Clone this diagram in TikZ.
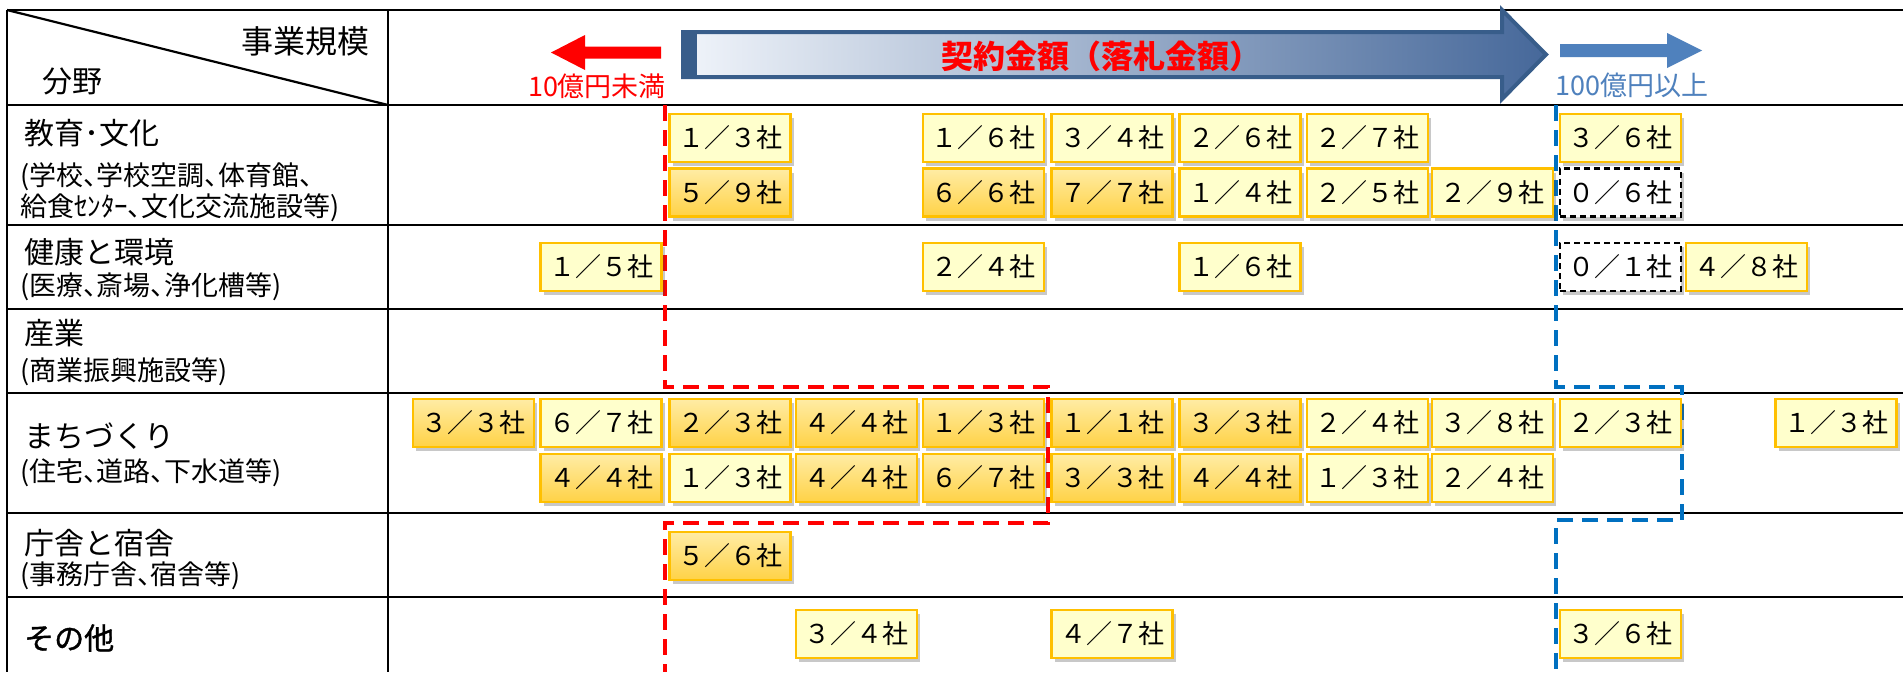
\documentclass[tikz,border=0pt]{standalone}
\usepackage{fontspec}
\setmainfont{Noto Sans CJK JP}
\newfontfamily\jpprop[RawFeature=+palt]{Noto Sans CJK JP}
\usetikzlibrary{shadows}
\definecolor{boxborder}{RGB}{255,192,0}
\definecolor{lightfill}{RGB}{255,255,204}
\definecolor{goldtop}{RGB}{255,236,165}
\definecolor{goldbot}{RGB}{255,210,70}
\definecolor{blueline}{RGB}{0,112,192}
\definecolor{arrowblue}{RGB}{79,129,189}
\definecolor{bigedge}{RGB}{56,93,138}
\definecolor{bigleft}{RGB}{240,244,250}
\definecolor{bigmid}{RGB}{196,211,232}
\definecolor{bigright}{RGB}{70,104,154}
\begin{document}
\begin{tikzpicture}[x=1pt,y=-1pt,
  tbl/.style={line width=2.8pt, black},
  cell/.style={minimum width=121pt, minimum height=48pt, inner sep=0pt, draw=boxborder, line width=2.2pt,
    font=\fontsize{26}{30}\selectfont,
    drop shadow={shadow xshift=3pt, shadow yshift=-4pt, opacity=0.3, fill=black!70}},
  lt/.style={cell, fill=lightfill},
  dk/.style={cell, top color=goldtop, bottom color=goldbot},
  ds/.style={cell, fill=white, draw=black, dash pattern=on 6pt off 4pt},
  ttl/.style={anchor=west, inner sep=0pt, font=\fontsize{30}{34}\selectfont},
  sub/.style={anchor=west, inner sep=0pt, font=\jpprop\fontsize{27}{30}\selectfont},
  zone/.style={line width=3.5pt, dash pattern=on 16pt off 9pt}
]
\useasboundingbox (0,0) rectangle (1903,672);
\fill[white] (0,0) rectangle (1903,672);

% table grid
\draw[tbl] (7,10) -- (1903,10);
\draw[tbl] (7,10) -- (7,672);
\draw[tbl] (388,10) -- (388,672);
\foreach \yy in {105,225,309,393,513,597} \draw[tbl] (7,\yy) -- (1903,\yy);
\draw[line width=2.2pt] (7,10) -- (388,105);

% header texts
\node[anchor=east, inner sep=0pt, font=\fontsize{32}{36}\selectfont] (scale) at (370,41) {事業規模};
\node[ttl] (field) at (42,81) {分野};

% arrows in header
\fill[red] (661,46.5) -- (585,46.5) -- (585,35) -- (551,52.5) -- (585,70) -- (585,58.5) -- (661,58.5) -- cycle;
\node[inner sep=0pt, text=red, font=\fontsize{27}{30}\selectfont] (small) at (597,86) {10億円未満};
\fill[arrowblue] (1560,44) -- (1667,44) -- (1667,33) -- (1702,50.5) -- (1667,68) -- (1667,57) -- (1560,57) -- cycle;
\node[inner sep=0pt, text=arrowblue, font=\fontsize{27}{30}\selectfont] (large) at (1632,85) {100億円以上};

\path[draw=bigedge, line width=4pt, line join=miter, left color=bigleft, middle color=bigmid, right color=bigright]
  (683,32) -- (1502,32) -- (1502,10) -- (1546,54.5) -- (1502,99) -- (1502,77) -- (683,77) -- cycle;
\fill[bigedge] (683,32) rectangle (697,77);
\node[inner sep=0pt, text=red, font=\fontsize{32}{36}\selectfont\bfseries] (title) at (1101,56) {契約金額（落札金額）};

% row headings
\node[ttl] (r1) at (24,133) {教育･文化};
\node[sub] (r1a) at (20,177) {(学校、学校空調、体育館、};
\node[sub] (r1b) at (20,208) {給食ｾﾝﾀｰ、文化交流施設等)};
\node[ttl] (r2) at (24,252) {健康と環境};
\node[sub] (r2a) at (20,287) {(医療、斎場、浄化槽等)};
\node[ttl] (r3) at (24,333) {産業};
\node[sub] (r3a) at (20,372) {(商業振興施設等)};
\node[ttl] (r4) at (24,436) {まちづくり};
\node[sub] (r4a) at (20,473) {(住宅、道路、下水道等)};
\node[ttl] (r5) at (24,543) {庁舎と宿舎};
\node[sub] (r5a) at (20,576) {(事務庁舎、宿舎等)};
\node[ttl, font=\fontsize{30}{34}\selectfont\addfontfeature{FakeBold=1.2}] (r6) at (24,638) {その他};

% zones
\draw[zone, red] (665,105) -- (665,387) -- (1048,387) -- (1048,523) -- (665,523) -- (665,672);
\draw[zone, blueline] (1556,105) -- (1556,387) -- (1682,387) -- (1682,520) -- (1556,520) -- (1556,672);

% education row 1
\node[lt] (e1c) at (730,138) {１／３社};
\node[lt] (e1e) at (983.5,138) {１／６社};
\node[lt] (e1f) at (1112,138) {３／４社};
\node[lt] (e1g) at (1240,138) {２／６社};
\node[lt] (e1h) at (1367.5,138) {２／７社};
\node[lt] (e1j) at (1620.5,138) {３／６社};
% education row 2
\node[dk] (e2c) at (730,192.5) {５／９社};
\node[dk] (e2e) at (983.5,192.5) {６／６社};
\node[dk] (e2f) at (1112,192.5) {７／７社};
\node[lt] (e2g) at (1240,192.5) {１／４社};
\node[lt] (e2h) at (1367.5,192.5) {２／５社};
\node[lt] (e2i) at (1492.5,192.5) {２／９社};
\node[ds] (e2j) at (1620.5,192.5) {０／６社};
% health
\node[lt] (hb) at (601,267) {１／５社};
\node[lt] (he) at (983.5,267) {２／４社};
\node[lt] (hg) at (1240,267) {１／６社};
\node[ds] (hj) at (1620.5,267) {０／１社};
\node[lt] (hk) at (1746.5,267) {４／８社};
% town planning row 1
\node[dk] (m1a) at (473.5,423) {３／３社};
\node[lt] (m1b) at (601,423) {６／７社};
\node[dk] (m1c) at (730,423) {２／３社};
\node[dk] (m1d) at (856.5,423) {４／４社};
\node[dk] (m1e) at (983.5,423) {１／３社};
\node[dk] (m1f) at (1112,423) {１／１社};
\node[dk] (m1g) at (1240,423) {３／３社};
\node[lt] (m1h) at (1367.5,423) {２／４社};
\node[lt] (m1i) at (1492.5,423) {３／８社};
\node[lt] (m1j) at (1620.5,423) {２／３社};
\node[lt] (m1l) at (1836,423) {１／３社};
% town planning row 2
\node[dk] (m2b) at (601,478) {４／４社};
\node[lt] (m2c) at (730,478) {１／３社};
\node[dk] (m2d) at (856.5,478) {４／４社};
\node[dk] (m2e) at (983.5,478) {６／７社};
\node[dk] (m2f) at (1112,478) {３／３社};
\node[dk] (m2g) at (1240,478) {４／４社};
\node[lt] (m2h) at (1367.5,478) {１／３社};
\node[lt] (m2i) at (1492.5,478) {２／４社};
% offices
\node[dk] (cc) at (730,556) {５／６社};
% others
\node[lt] (od) at (856.5,634) {３／４社};
\node[lt] (of) at (1112,634) {４／７社};
\node[lt] (oj) at (1620.5,634) {３／６社};
\end{tikzpicture}
\end{document}
